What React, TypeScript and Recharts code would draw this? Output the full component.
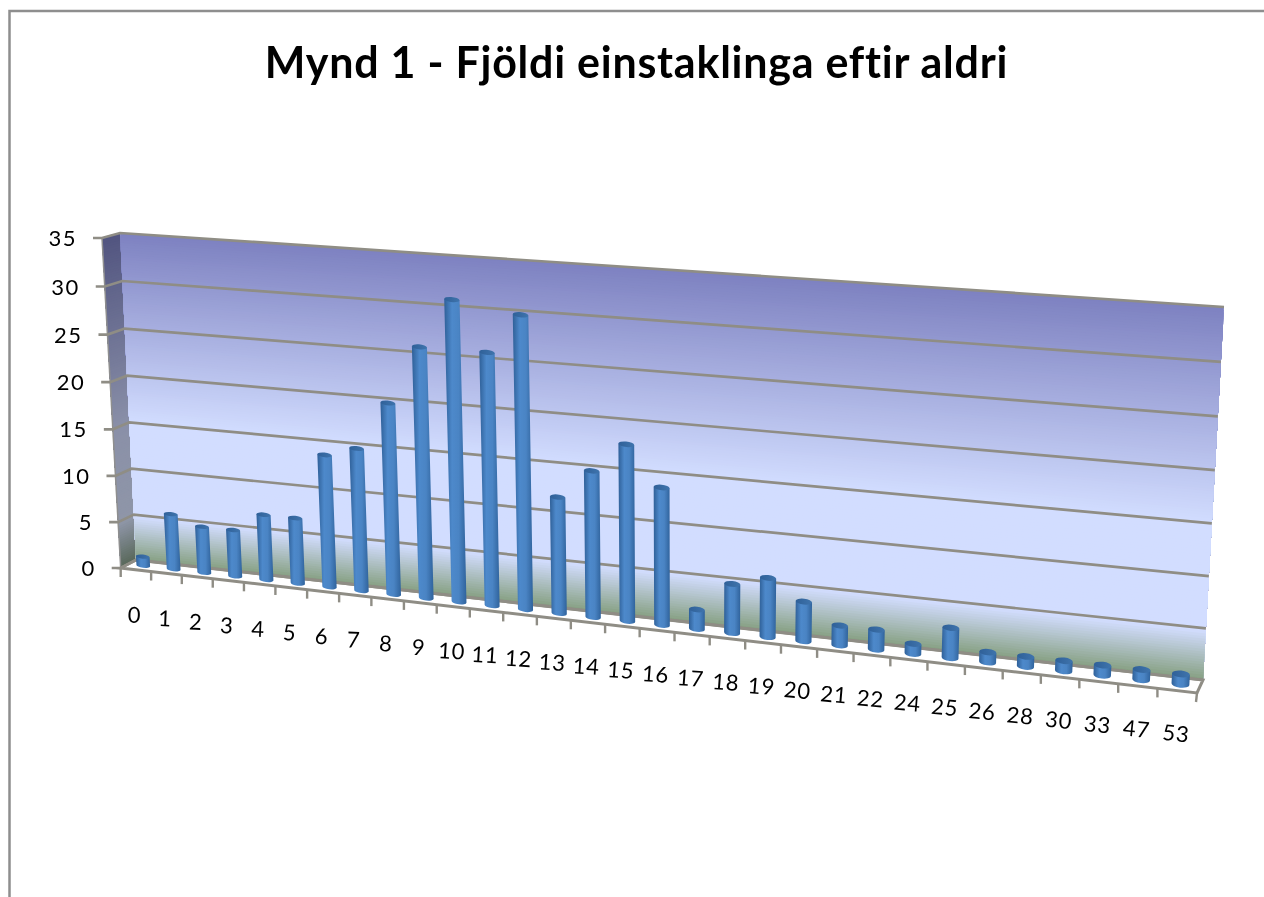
import { ComposedChart, Bar, XAxis, YAxis, CartesianGrid } from "recharts";

const ages = ["0","1","2","3","4","5","6","7","8","9","10","11","12","13","14","15","16","17","18","19","20","21","22","24","25","26","28","30","33","47","53"];
const counts = [1,6,5,5,7,7,14,15,20,26,31,26,30,12,15,18,14,2,5,6,4,2,2,1,3,1,1,1,1,1,1];
const yTicks = [0,5,10,15,20,25,30,35];
const data = ages.map((age, i) => ({ age, count: counts[i] }));

// flat plot box that recharts lays out, everything gets projected from it
const L = 100, T = 240, W = 1100, H = 440;

type Pt = [number, number];

// unit square -> quad (BL, BR, TR, TL)
const makeProjection = (q: Pt[]) => {
  const [[x0, y0], [x1, y1], [x2, y2], [x3, y3]] = q;
  const sx = x0 - x1 + x2 - x3, sy = y0 - y1 + y2 - y3;
  const dx1 = x1 - x2, dx2 = x3 - x2, dy1 = y1 - y2, dy2 = y3 - y2;
  const den = dx1 * dy2 - dx2 * dy1;
  const g = (sx * dy2 - dx2 * sy) / den, h = (dx1 * sy - sx * dy1) / den;
  const a = x1 - x0 + g * x1, b = x3 - x0 + h * x3, d = y1 - y0 + g * y1, e = y3 - y0 + h * y3;
  return (u: number, v: number): Pt => {
    const w = g * u + h * v + 1;
    return [(a * u + b * v + x0) / w, (d * u + e * v + y0) / w];
  };
};

const backWall = makeProjection([[136, 560], [1203, 680], [1224, 307], [120, 233]]);
const barPlane = makeProjection([[128, 564], [1200, 686.5], [1220, 312.5], [109, 235.5]]);
const frontFloor = makeProjection([[120.7, 568], [1197, 693], [1218, 318], [102, 238]]);

const toU = (x: number) => (x - L) / W;
const toV = (y: number) => (T + H - y) / H;
const pts = (list: Pt[]) => list.map((p) => p.join(",")).join(" ");

const hex = (c: number[]) => `rgb(${c.map(Math.round).join(",")})`;
const wallStops: [number, number[]][] = [[0, [132, 158, 126]], [0.14, [210, 221, 255]], [0.43, [210, 221, 255]], [1, [126, 130, 193]]];
const sideStops: [number, number[]][] = [[0, [86, 102, 86]], [0.14, [143, 150, 168]], [0.43, [138, 144, 168]], [1, [82, 85, 128]]];
const colorAt = (stops: [number, number[]][], v: number) => {
  for (let i = 1; i < stops.length; i++) {
    if (v <= stops[i][0]) {
      const [a, ca] = stops[i - 1], [b, cb] = stops[i];
      const t = (v - a) / (b - a);
      return hex(ca.map((c, k) => c + (cb[k] - c) * t));
    }
  }
  return hex(stops[stops.length - 1][1]);
};

const stripLevels = Array.from({ length: 140 }, (_, i) => 1 - i / 140);

// sits under the (transparent) chart svg so the grid lines land on top of it
const Backdrop = () => (
  <svg width={1264} height={897} style={{ position: "absolute", left: 0, top: 0 }}>
    <polyline points="9.5,897 9.5,11 1264,11" fill="none" stroke="#8e8e8e" strokeWidth={2.5} />
    <text x={636.5} y={78} textAnchor="middle" fontFamily="Lato" fontWeight={700} fontSize={43} letterSpacing={0.75} fill="#000">
      Mynd 1 - Fjöldi einstaklinga eftir aldri
    </text>
    {stripLevels.map((v) => (
      <polygon key={"s" + v} points={pts([frontFloor(0, v), backWall(0, v), backWall(0, 0), frontFloor(0, 0)])} fill={colorAt(sideStops, v)} />
    ))}
    {stripLevels.map((v) => (
      <polygon key={"b" + v} points={pts([backWall(0, v), backWall(1, v), backWall(1, 0), backWall(0, 0)])} fill={colorAt(wallStops, v)} />
    ))}
    <polyline points={pts([frontFloor(0, 1), frontFloor(0, 0)])} stroke="#8f8f8f" strokeWidth={1.5} fill="none" />
    <polygon points={pts([frontFloor(0, 0), backWall(0, 0), backWall(1, 0), frontFloor(1, 0)])} fill="#fff" stroke="#8f8d85" strokeWidth={3} />
  </svg>
);

const GridLine = (props: any) => {
  const v = toV(props.y1);
  const f = frontFloor(0, v);
  return (
    <polyline
      key={props.key}
      points={pts([[f[0] - 9, f[1]], f, backWall(0, v), backWall(1, v)])}
      fill="none"
      stroke="#8f8d85"
      strokeWidth={2.7}
    />
  );
};

const YTick = ({ y, payload }: any) => {
  const f = frontFloor(0, toV(y));
  return (
    <text x={f[0] - 25} y={f[1] + 8} textAnchor="end" fontFamily="Lato" fontSize={22} letterSpacing={1.5} fill="#000">
      {payload.value}
    </text>
  );
};

const XTick = ({ x, payload, index }: any) => {
  const band = W / ages.length;
  const u = toU(x);
  const left = frontFloor(toU(x - band / 2), 0);
  const right = frontFloor(toU(x + band / 2), 0);
  const p = barPlane(u, 0);
  const lx = p[0] - 9 + 4 * u, ly = p[1] + 57;
  return (
    <g>
      <line x1={left[0]} y1={left[1]} x2={left[0]} y2={left[1] + 9} stroke="#8f8d85" strokeWidth={2.4} />
      {index === ages.length - 1 && (
        <line x1={right[0]} y1={right[1]} x2={right[0] - 1} y2={right[1] + 9} stroke="#8f8d85" strokeWidth={2.4} />
      )}
      <text x={lx} y={ly} textAnchor="middle" fontFamily="Lato" fontSize={22} letterSpacing={0.8} fill="#000" transform={`rotate(${2 + 4 * u} ${lx} ${ly})`}>
        {payload.value}
      </text>
    </g>
  );
};

const Cylinder = ({ x, y, width, height }: any) => {
  const uL = toU(x), uR = toU(x + width);
  const vTop = toV(y), vBase = toV(y + height);
  const bl = barPlane(uL, vBase), br = barPlane(uR, vBase);
  const tl = barPlane(uL, vTop), tr = barPlane(uR, vTop);
  const rx = (br[0] - bl[0]) / 2;
  const ry = 2 + 1.4 * uL;
  const angle = (Math.atan2(br[1] - bl[1], br[0] - bl[0]) * 180) / Math.PI;
  const body = `M${tl[0]} ${tl[1]} L${bl[0]} ${bl[1]} A${rx} ${ry} ${angle} 0 0 ${br[0]} ${br[1]} L${tr[0]} ${tr[1]} Z`;
  const cap = `M${tl[0]} ${tl[1]} A${rx} ${ry} ${angle} 0 1 ${tr[0]} ${tr[1]} A${rx} ${ry} ${angle} 0 1 ${tl[0]} ${tl[1]} Z`;
  return (
    <g>
      <path d={body} fill="url(#cylBody)" />
      <path d={cap} fill="url(#cylCap)" />
    </g>
  );
};

export default function App() {
  return (
    <div style={{ position: "fixed", left: 0, top: 0, width: 1264, height: 897, overflow: "hidden", background: "#fff", filter: "blur(0.45px)" }}>
      <Backdrop />
      <ComposedChart
        width={1264}
        height={897}
        data={data}
        margin={{ top: T, left: L - 60, right: 1264 - L - W, bottom: 897 - T - H - 30 }}
        barCategoryGap="28%"
      >
        <defs>
          <linearGradient id="cylBody" x1="0" x2="1" y1="0" y2="0">
            <stop offset="0" stopColor="#2f6098" />
            <stop offset="0.35" stopColor="#4d89cb" />
            <stop offset="0.65" stopColor="#4a84c4" />
            <stop offset="1" stopColor="#30639c" />
          </linearGradient>
          <linearGradient id="cylCap" x1="0" x2="1" y1="0" y2="0">
            <stop offset="0" stopColor="#2f6098" />
            <stop offset="1" stopColor="#3f74ad" />
          </linearGradient>
        </defs>
        <CartesianGrid horizontal={GridLine as any} vertical={false} />
        <XAxis dataKey="age" height={30} axisLine={false} tickLine={false} interval={0} tick={XTick as any} />
        <YAxis width={60} domain={[0, 35]} ticks={yTicks} axisLine={false} tickLine={false} interval={0} tick={YTick as any} />
        <Bar dataKey="count" shape={Cylinder as any} isAnimationActive={false} />
      </ComposedChart>
    </div>
  );
}
